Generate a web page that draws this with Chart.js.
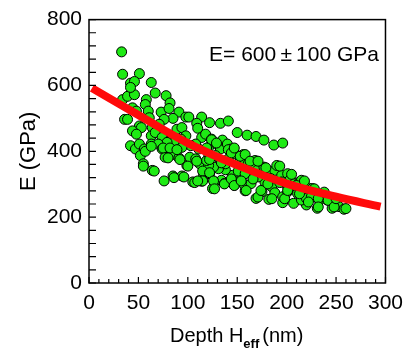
<!DOCTYPE html>
<html>
<head>
<meta charset="utf-8">
<script src="https://cdn.jsdelivr.net/npm/chart.js@4.4.1/dist/chart.umd.min.js"></script>
<style>
  html, body { margin: 0; padding: 0; background: #fff; }
  #wrap { width: 411px; height: 350px; }
</style>
</head>
<body>
<div id="wrap"><canvas id="grafica" width="411" height="350"></canvas></div>
<script>
// measured points: depth (nm) and modulus (GPa)
const depth = [33, 34, 51, 42, 46, 63, 34, 39, 46, 42, 67, 78, 58, 82, 44, 48, 57, 60, 36, 39,
    61, 73, 81, 91, 85, 76, 98, 101, 114, 109, 110, 122, 133, 141, 150, 160, 169, 177, 187, 196,
    51, 53, 44, 48, 64, 63, 67, 71, 74, 82, 89, 94, 98, 93, 86, 79, 42, 47, 51, 56,
    63, 70, 74, 84, 77, 84, 91, 52, 55, 64, 76, 85, 94, 99, 102, 108, 112, 105, 114, 116,
    122, 125, 127, 134, 137, 144, 147, 114, 118, 121, 124, 129, 133, 135, 140, 144, 141, 148, 153, 156,
    158, 161, 168, 165, 170, 177, 181, 188, 190, 195, 201, 203, 208, 213, 215, 221, 226, 223, 228, 233,
    238, 241, 246, 250, 253, 258, 231, 220, 207, 196, 182, 169, 175, 158, 156, 164, 151, 145, 151, 158,
    138, 131, 126, 121, 119, 111, 108, 103, 94, 121, 128, 133, 138, 185, 188, 196, 201, 211, 201, 195,
    178, 171, 184, 215, 220, 225, 232,
    115, 122, 115, 126, 127, 137, 144, 147, 154, 159, 166, 171, 174, 181, 185, 193, 198, 201, 205, 210,
    213, 218, 222, 228, 232, 238, 242, 248, 250, 260,
    124, 129, 119, 141, 144, 147, 153, 158, 163, 171, 179, 193, 122, 134,
    57, 63, 75, 82, 80, 89, 92, 100, 109, 55, 66, 86, 96, 107, 110];
const modulus = [702, 634, 636, 607, 612, 609, 557, 567, 572, 594, 577, 569, 557, 547, 532, 522, 542, 522, 497, 497,
    502, 519, 530, 519, 500, 497, 504, 504, 504, 485, 470, 487, 485, 492, 457, 449, 445, 434, 419, 425,
    477, 472, 462, 452, 472, 447, 457, 482, 442, 432, 467, 472, 447, 437, 427, 427, 417, 407, 422, 407,
    422, 422, 407, 402, 382, 390, 380, 387, 362, 342, 310, 325, 325, 357, 382, 377, 362, 307, 309, 327,
    332, 287, 307, 312, 302, 307, 297, 442, 452, 412, 437, 422, 407, 434, 422, 407, 377, 392, 372, 390,
    367, 362, 372, 352, 342, 352, 334, 342, 357, 327, 332, 312, 302, 307, 312, 290, 287, 272, 262, 252,
    272, 252, 227, 247, 232, 224, 227, 237, 242, 244, 254, 257, 277, 280, 302, 302, 317, 327, 340, 332,
    344, 347, 352, 357, 372, 407, 422, 417, 412, 392, 387, 372, 362, 292, 274, 262, 277, 272, 292, 307,
    307, 322, 317, 252, 257, 262, 257,
    340, 335, 310, 310, 286, 301, 316, 296, 310, 281, 316, 261, 281, 301, 256, 305, 256, 281, 330, 296,
    271, 310, 246, 286, 231, 276, 251, 231, 256, 226,
    435, 425, 410, 405, 395, 410, 385, 390, 370, 370, 350, 355, 375, 365,
    400, 415, 410, 410, 380, 405, 375, 355, 370, 355, 340, 320, 322, 305, 310];

// fitted curve
const fitDepth = [3, 50, 100, 150, 200, 250, 295];
const fitE = [592, 510, 425, 358, 302, 262, 232];

const xTicks = [0, 50, 100, 150, 200, 250, 300];
const yTicks = [0, 200, 400, 600, 800];

const pts = depth.map((d, i) => ({x: d, y: modulus[i]}));
const fit = fitDepth.map((d, i) => ({x: d, y: fitE[i]}));

const fuente = '"Liberation Sans", Arial, sans-serif';

// inward ticks, box, and the texts Chart.js can't do (subscript)
const marcos = {
    id: 'marcos',
    afterDraw(chart) {
        const c = chart.ctx;
        const a = chart.chartArea;
        const sx = chart.scales.x, sy = chart.scales.y;
        c.save();
        c.strokeStyle = '#000';
        c.lineWidth = 1.5;
        c.strokeRect(a.left, a.top, a.right - a.left, a.bottom - a.top);
        c.lineWidth = 1.2;
        c.beginPath();
        for (let v = 0; v <= 300; v += 10) {
            const px = sx.getPixelForValue(v);
            const len = v % 50 === 0 ? 6 : 4;
            c.moveTo(px, a.bottom);
            c.lineTo(px, a.bottom - len);
        }
        for (let v = 0; v <= 800; v += 40) {
            const py = sy.getPixelForValue(v);
            c.moveTo(a.left, py);
            c.lineTo(a.left + 7, py);
        }
        c.stroke();

        c.fillStyle = '#000';
        c.textBaseline = 'alphabetic';
        c.font = '21px ' + fuente;
        c.textAlign = 'right';
        c.fillText('E= 600\u2009\u00b1\u2009100 GPa', 379, 61);

        // x title with subscript
        c.textAlign = 'left';
        let x0 = 170;
        c.font = '20px ' + fuente;
        c.fillText('Depth H', x0, 342);
        x0 += c.measureText('Depth H').width;
        c.font = 'bold 13px ' + fuente;
        c.fillText('eff', x0, 348);
        x0 += c.measureText('eff').width + 3;
        c.font = '20px ' + fuente;
        c.fillText('(nm)', x0, 342);
        c.restore();
    }
};

const data = {
    datasets: [
        {
            label: 'fit',
            data: fit,
            showLine: true,
            borderColor: '#ff0a0a',
            borderWidth: 8,
            pointRadius: 0,
            tension: 0.4,
            fill: false
        },
        {
            label: 'E',
            data: pts,
            backgroundColor: '#1eea14',
            borderColor: '#000',
            borderWidth: 1,
            pointRadius: 5
        }
    ]
};

const config = {
    type: 'scatter',
    data: data,
    options: {
        responsive: false,
        animation: false,
        layout: {padding: {left: 0, top: 16, right: 25, bottom: 0}},
        plugins: {legend: {display: false}, tooltip: {enabled: false}},
        scales: {
            x: {
                type: 'linear', min: 0, max: 300,
                afterFit(s) { s.height = 67; },
                afterBuildTicks(s) { s.ticks = xTicks.map(v => ({value: v})); },
                grid: {display: false, drawTicks: false},
                border: {display: false},
                ticks: {color: '#000', padding: 8, font: {family: fuente, size: 21}}
            },
            y: {
                type: 'linear', min: 0, max: 800,
                afterFit(s) { s.width = 89; },
                afterBuildTicks(s) { s.ticks = yTicks.map(v => ({value: v})); },
                grid: {display: false, drawTicks: false},
                border: {display: false},
                ticks: {color: '#000', padding: 7, font: {family: fuente, size: 21}},
                title: {display: true, text: 'E (GPa)', color: '#000', padding: {top: 16, bottom: 0},
                    font: {family: fuente, size: 22}}
            }
        }
    },
    plugins: [marcos]
};

const ctx = document.getElementById('grafica').getContext('2d');
const graficaE = new Chart(ctx, config);
</script>
</body>
</html>
